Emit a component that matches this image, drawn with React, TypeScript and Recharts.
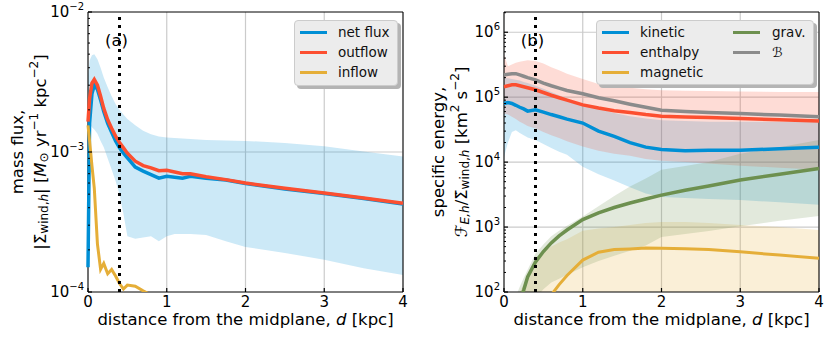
import React from 'react';
import {
  ComposedChart,
  Line,
  Area,
  XAxis,
  YAxis,
  CartesianGrid,
  ReferenceLine,
  ReferenceArea,
  Legend,
  Label,
} from 'recharts';

const FONT = '"DejaVu Sans", Verdana, sans-serif';
const BLUE = '#008fd5';
const RED = '#fc4f30';
const YELLOW = '#e5ae38';
const GREEN = '#6d904f';
const GRAY = '#8b8b8b';

// ---- panel (a): mass flux ----
const distA = [0, 0.02, 0.05, 0.08, 0.12, 0.16, 0.2, 0.25, 0.3, 0.35, 0.4, 0.45, 0.5, 0.6, 0.7, 0.8, 0.9, 1.0, 1.1, 1.2, 1.3, 1.5, 1.75, 2.0, 2.5, 3.0, 3.5, 4.0];
const netFlux = [1.5e-4, 1.6e-3, 2.6e-3, 3.0e-3, 2.8e-3, 2.35e-3, 1.95e-3, 1.6e-3, 1.38e-3, 1.2e-3, 1.07e-3, 9.8e-4, 9.1e-4, 7.8e-4, 7.3e-4, 6.9e-4, 6.5e-4, 6.7e-4, 6.6e-4, 6.5e-4, 6.7e-4, 6.5e-4, 6.3e-4, 5.95e-4, 5.45e-4, 5.05e-4, 4.65e-4, 4.25e-4];
const outflow = [1.65e-3, 2.4e-3, 3.1e-3, 3.3e-3, 3.0e-3, 2.5e-3, 2.05e-3, 1.7e-3, 1.48e-3, 1.3e-3, 1.17e-3, 1.07e-3, 9.8e-4, 8.6e-4, 8.0e-4, 7.7e-4, 7.35e-4, 7.4e-4, 7.2e-4, 7.0e-4, 7.0e-4, 6.65e-4, 6.35e-4, 6.0e-4, 5.5e-4, 5.1e-4, 4.7e-4, 4.3e-4];
const inflow = [1.55e-3, 1.2e-3, 8.0e-4, 5.5e-4, 2.2e-4, 1.45e-4, 1.6e-4, 1.35e-4, 1.45e-4, 1.3e-4, 1.15e-4, 1.05e-4, 1.12e-4, 1.1e-4, 1.02e-4, 9.5e-5, null, null, null, null, null, null, null, null, null, null, null, null];
const netHi = [3.5e-3, 4.5e-3, 4.9e-3, 5.0e-3, 4.6e-3, 4.0e-3, 3.4e-3, 2.9e-3, 2.5e-3, 2.2e-3, 2.0e-3, 1.85e-3, 1.72e-3, 1.55e-3, 1.42e-3, 1.34e-3, 1.29e-3, 1.27e-3, 1.26e-3, 1.25e-3, 1.24e-3, 1.22e-3, 1.21e-3, 1.2e-3, 1.16e-3, 1.1e-3, 1.01e-3, 9.3e-4];
const netLo = [1.5e-3, 1.6e-3, 1.5e-3, 1.45e-3, 1.35e-3, 1.2e-3, 1.08e-3, 9.0e-4, 7.5e-4, 6.2e-4, 5.0e-4, 3.6e-4, 2.5e-4, 2.4e-4, 2.45e-4, 2.5e-4, 2.3e-4, 2.5e-4, 2.6e-4, 2.6e-4, 2.6e-4, 2.55e-4, 2.3e-4, 2.1e-4, 1.9e-4, 1.7e-4, 1.48e-4, 1.32e-4];

// ---- panel (b): specific energy ----
const distB = [0, 0.05, 0.1, 0.15, 0.2, 0.25, 0.3, 0.4, 0.5, 0.6, 0.7, 0.8, 1.0, 1.2, 1.4, 1.6, 1.8, 2.0, 2.3, 2.6, 3.0, 3.5, 4.0];
const kinetic = [8.0e4, 8.3e4, 8.0e4, 7.5e4, 7.0e4, 6.6e4, 6.1e4, 6.4e4, 5.9e4, 5.4e4, 5.0e4, 4.6e4, 4.0e4, 3.0e4, 2.5e4, 2.0e4, 1.7e4, 1.57e4, 1.5e4, 1.52e4, 1.53e4, 1.6e4, 1.7e4];
const enthalpy = [1.45e5, 1.5e5, 1.55e5, 1.55e5, 1.5e5, 1.45e5, 1.4e5, 1.3e5, 1.18e5, 1.07e5, 9.8e4, 9.0e4, 7.6e4, 6.8e4, 6.2e4, 5.8e4, 5.4e4, 5.1e4, 4.95e4, 4.85e4, 4.7e4, 4.5e4, 4.3e4];
const magnetic = [10, 12, 15, 18, 22, 27, 33, 50, 68, 90, 130, 180, 310, 410, 450, 460, 475, 470, 465, 450, 415, 370, 330];
const grav = [5, 8, 20, 45, 75, 107, 170, 290, 420, 570, 730, 900, 1300, 1650, 2000, 2350, 2700, 3100, 3700, 4300, 5300, 6500, 8000];
const bern = [2.2e5, 2.25e5, 2.3e5, 2.3e5, 2.2e5, 2.1e5, 2.0e5, 1.85e5, 1.65e5, 1.5e5, 1.38e5, 1.27e5, 1.13e5, 9.8e4, 8.8e4, 7.8e4, 7.0e4, 6.3e4, 6.0e4, 5.8e4, 5.6e4, 5.3e4, 5.0e4];
const kinHi = [2.0e5, 1.95e5, 1.9e5, 1.85e5, 1.8e5, 1.72e5, 1.65e5, 1.5e5, 1.35e5, 1.2e5, 1.07e5, 9.5e4, 7.6e4, 6.6e4, 5.7e4, 5.1e4, 4.7e4, 4.4e4, 4.3e4, 4.2e4, 4.2e4, 4.2e4, 4.2e4];
const kinLo = [1.2e4, 2.0e4, 2.9e4, 3.1e4, 2.8e4, 2.6e4, 2.4e4, 2.2e4, 1.9e4, 1.65e4, 1.45e4, 1.3e4, 8.5e3, 6.5e3, 5.2e3, 4.1e3, 3.3e3, 2.9e3, 2.8e3, 2.7e3, 2.6e3, 2.4e3, 2.2e3];
const enthHi = [4.5e5, 3.0e5, 3.2e5, 3.4e5, 3.5e5, 3.6e5, 3.7e5, 3.6e5, 3.3e5, 2.9e5, 2.6e5, 2.3e5, 1.9e5, 1.6e5, 1.48e5, 1.4e5, 1.32e5, 1.28e5, 1.26e5, 1.24e5, 1.22e5, 1.2e5, 1.2e5];
const enthLo = [5.6e4, 5.4e4, 5.0e4, 4.6e4, 4.2e4, 3.9e4, 3.6e4, 3.3e4, 2.9e4, 2.6e4, 2.35e4, 2.1e4, 1.74e4, 1.5e4, 1.35e4, 1.25e4, 1.12e4, 1.05e4, 1.0e4, 9.5e3, 8.8e3, 8.2e3, 7.6e3];
const gravHi = [30, 40, 55, 85, 120, 165, 220, 390, 540, 720, 880, 1050, 1450, 2100, 3000, 4200, 5600, 7600, 8700, 1.0e4, 1.35e4, 1.7e4, 2.2e4];
const gravLo = [5, 8, 12, 18, 27, 38, 50, 80, 110, 140, 160, 185, 240, 300, 360, 430, 520, 700, 780, 870, 1030, 1250, 1480];
const magHi = [20, 30, 45, 70, 100, 130, 170, 270, 420, 500, 580, 650, 880, 950, 1000, 1080, 1150, 1200, 1200, 1150, 1080, 1000, 900];
const magLo = [10, 12, 15, 18, 20, 22, 25, 30, 35, 40, 45, 50, 55, 60, 62, 65, 66, 68, 68, 66, 64, 62, 60];

const xTicks = [0, 1, 2, 3, 4];
const domainA: [number, number] = [1e-4, 1e-2];
const domainB: [number, number] = [1e2, 2.05e6];
const midplaneCut = 0.4;

// decade ticks plus the 2..9 minor ticks inside the domain
function logTicks(lo: number, hi: number, max: number) {
  const out: number[] = [];
  for (let e = lo; e <= hi; e++) for (let m = 1; m <= 9; m++) out.push(m * Math.pow(10, e));
  return out.filter((v) => v <= max * 1.0001);
}
const yTicksA = logTicks(-4, -2, domainA[1]);
const yTicksB = logTicks(2, 6, domainB[1]);

const dataA = distA.map((d, i) => ({
  d,
  net: netFlux[i],
  out: outflow[i],
  inflow: inflow[i],
  band: [netLo[i], netHi[i]],
}));

const dataB = distB.map((d, i) => ({
  d,
  kinetic: kinetic[i],
  enthalpy: enthalpy[i],
  magnetic: magnetic[i],
  grav: grav[i],
  bern: bern[i],
  kinBand: [kinLo[i], kinHi[i]],
  enthBand: [enthLo[i], enthHi[i]],
  gravBand: [gravLo[i], gravHi[i]],
  magBand: [magLo[i], magHi[i]],
}));

const isDecade = (v: number) => {
  const l = Math.log10(v);
  return Math.abs(l - Math.round(l)) < 1e-6;
};

function LogTick({ x, y, payload }: any) {
  const v = payload.value;
  if (!isDecade(v)) return <line x1={x} x2={x + 2} y1={y} y2={y} stroke="#000" strokeWidth={1} />;
  const e = Math.round(Math.log10(v));
  return (
    <g>
      <line x1={x} x2={x + 4} y1={y} y2={y} stroke="#000" strokeWidth={1.2} />
      <text x={x - 4} y={y} textAnchor="end" dominantBaseline="central" fontFamily={FONT} fontSize={15} fill="#000">
        10
        <tspan dy={-6} fontSize={10}>
          {e < 0 ? `\u2212${-e}` : `${e}`}
        </tspan>
      </text>
    </g>
  );
}

function XTick({ x, y, payload }: any) {
  return (
    <g>
      <line x1={x} x2={x} y1={y} y2={y - 4} stroke="#000" strokeWidth={1.2} />
      <text x={x} y={y + 10} textAnchor="middle" dominantBaseline="central" fontFamily={FONT} fontSize={15} fill="#000">
        {payload.value}
      </text>
    </g>
  );
}

function XLabel({ viewBox }: any) {
  const cx = viewBox.x + viewBox.width / 2;
  return (
    <text x={cx} y={viewBox.y + 33} textAnchor="middle" fontFamily={FONT} fontSize={16.5} fill="#000">
      distance from the midplane, <tspan fontStyle="italic">d</tspan> [kpc]
    </text>
  );
}

function rotated(x: number, y: number, children: React.ReactNode) {
  return (
    <text x={x} y={y} transform={`rotate(-90 ${x} ${y})`} textAnchor="middle" dominantBaseline="central" fontFamily={FONT} fontSize={16.5} fill="#000">
      {children}
    </text>
  );
}

function YLabelA({ viewBox }: any) {
  const left = viewBox.x + viewBox.width;
  const cy = viewBox.y + viewBox.height / 2;
  return (
    <g>
      {rotated(left - 71, cy, 'mass flux,')}
      {rotated(
        left - 48,
        cy,
        <>
          |{'\u03A3\u0307'}
          <tspan dy={4} fontSize={12}>
            wind,<tspan fontStyle="italic">h</tspan>
          </tspan>
          <tspan dy={-4}>| [</tspan>
          <tspan fontStyle="italic">M</tspan>
          <tspan dy={4} fontSize={12}>{'\u2299'}</tspan>
          <tspan dy={-4}> yr</tspan>
          <tspan dy={-6} fontSize={12}>{'\u22121'}</tspan>
          <tspan dy={6}> kpc</tspan>
          <tspan dy={-6} fontSize={12}>{'\u22122'}</tspan>
          <tspan dy={6}>]</tspan>
        </>,
      )}
    </g>
  );
}

function YLabelB({ viewBox }: any) {
  const left = viewBox.x + viewBox.width;
  const cy = viewBox.y + viewBox.height / 2;
  return (
    <g>
      {rotated(left - 66, cy, 'specific energy,')}
      {rotated(
        left - 43,
        cy,
        <>
          <tspan fontStyle="italic">{'\u2131'}</tspan>
          <tspan dy={4} fontSize={12} fontStyle="italic">E,h</tspan>
          <tspan dy={-4}>/{'\u03A3\u0307'}</tspan>
          <tspan dy={4} fontSize={12}>
            wind,<tspan fontStyle="italic">h</tspan>
          </tspan>
          <tspan dy={-4}> [km</tspan>
          <tspan dy={-6} fontSize={12}>2</tspan>
          <tspan dy={6}> s</tspan>
          <tspan dy={-6} fontSize={12}>{'\u22122'}</tspan>
          <tspan dy={6}>]</tspan>
        </>,
      )}
    </g>
  );
}

const panelTag = (tag: string) => ({ viewBox }: any) => (
  <text x={viewBox.x - 3} y={viewBox.y + 33.5} textAnchor="middle" fontFamily={FONT} fontSize={16.5} fill="#000">
    {tag}
  </text>
);

type LegendItem = { name: React.ReactNode; color: string; col: number; row: number };

const legendA: LegendItem[] = [
  { name: 'net flux', color: BLUE, col: 0, row: 0 },
  { name: 'outflow', color: RED, col: 0, row: 1 },
  { name: 'inflow', color: YELLOW, col: 0, row: 2 },
];
const legendB: LegendItem[] = [
  { name: 'kinetic', color: BLUE, col: 0, row: 0 },
  { name: 'enthalpy', color: RED, col: 0, row: 1 },
  { name: 'magnetic', color: YELLOW, col: 0, row: 2 },
  { name: 'grav.', color: GREEN, col: 1, row: 0 },
  { name: <i>{'\u212C'}</i>, color: GRAY, col: 1, row: 1 },
];

function LegendBox({ items }: { items: LegendItem[] }) {
  return (
    <div
      style={{
        position: 'relative',
        boxSizing: 'border-box',
        width: '100%',
        height: '100%',
        background: '#ececec',
        border: '1px solid #cccccc',
        borderRadius: 4,
        boxShadow: '3px 3px 0 #b4b4b4',
        fontFamily: FONT,
        fontSize: 13.5,
        color: '#111',
      }}
    >
      {items.map((it, i) => (
        <React.Fragment key={i}>
          <div
            style={{
              position: 'absolute',
              left: 5 + it.col * 131,
              top: 9.5 + it.row * 20,
              width: 27,
              height: 3.5,
              background: it.color,
            }}
          />
          <div
            style={{
              position: 'absolute',
              left: 43 + it.col * 132,
              top: 1 + it.row * 20,
              lineHeight: '20px',
              whiteSpace: 'nowrap',
            }}
          >
            {it.name}
          </div>
        </React.Fragment>
      ))}
    </div>
  );
}

const margin = { top: 12, right: 12, bottom: 15, left: 28 };

function Axes({ domain, ticks, yLabel }: any) {
  return null;
}

function PanelA() {
  return (
    <ComposedChart width={415} height={337} data={dataA} margin={margin}>
      <CartesianGrid stroke="#cbcbcb" strokeWidth={1.2} horizontalValues={[1e-3]} />
      <XAxis dataKey="d" type="number" domain={[0, 4]} ticks={xTicks} interval={0} height={30} tickSize={0} tickMargin={0} axisLine={false} tickLine={false} tick={XTick}>
        <Label content={XLabel} />
      </XAxis>
      <YAxis scale="log" type="number" domain={domainA} allowDataOverflow ticks={yTicksA} interval={0} width={60} tickSize={0} tickMargin={0} axisLine={false} tickLine={false} tick={LogTick}>
        <Label content={YLabelA} />
      </YAxis>
      <Area dataKey="band" stroke="none" fill={BLUE} fillOpacity={0.2} isAnimationActive={false} />
      <Line dataKey="net" stroke={BLUE} strokeWidth={3.5} dot={false} isAnimationActive={false} />
      <Line dataKey="out" stroke={RED} strokeWidth={3.5} dot={false} isAnimationActive={false} />
      <Line dataKey="inflow" stroke={YELLOW} strokeWidth={3} dot={false} isAnimationActive={false} />
      <ReferenceLine x={midplaneCut} stroke="#000" strokeWidth={3} strokeDasharray="3 5" label={panelTag('(a)')} />
      <ReferenceArea x1={0} x2={4} y1={domainA[0]} y2={domainA[1]} fill="none" stroke="#000" strokeWidth={1} ifOverflow="visible" />
      <Legend layout="vertical" align="center" verticalAlign="middle" wrapperStyle={{ left: 294, top: 20, width: 104, height: 66 }} content={() => <LegendBox items={legendA} />} />
    </ComposedChart>
  );
}

function PanelB() {
  return (
    <ComposedChart width={415} height={337} data={dataB} margin={margin}>
      <CartesianGrid stroke="#cbcbcb" strokeWidth={1.2} horizontalValues={[1e3, 1e4, 1e5, 1e6]} />
      <XAxis dataKey="d" type="number" domain={[0, 4]} ticks={xTicks} interval={0} height={30} tickSize={0} tickMargin={0} axisLine={false} tickLine={false} tick={XTick}>
        <Label content={XLabel} />
      </XAxis>
      <YAxis scale="log" type="number" domain={domainB} allowDataOverflow ticks={yTicksB} interval={0} width={60} tickSize={0} tickMargin={0} axisLine={false} tickLine={false} tick={LogTick}>
        <Label content={YLabelB} />
      </YAxis>
      <Area dataKey="kinBand" stroke="none" fill={BLUE} fillOpacity={0.2} isAnimationActive={false} />
      <Area dataKey="enthBand" stroke="none" fill={RED} fillOpacity={0.2} isAnimationActive={false} />
      <Area dataKey="magBand" stroke="none" fill={YELLOW} fillOpacity={0.2} isAnimationActive={false} />
      <Area dataKey="gravBand" stroke="none" fill={GREEN} fillOpacity={0.2} isAnimationActive={false} />
      <Line dataKey="kinetic" stroke={BLUE} strokeWidth={3.5} dot={false} isAnimationActive={false} />
      <Line dataKey="enthalpy" stroke={RED} strokeWidth={3.5} dot={false} isAnimationActive={false} />
      <Line dataKey="magnetic" stroke={YELLOW} strokeWidth={3} dot={false} isAnimationActive={false} />
      <Line dataKey="grav" stroke={GREEN} strokeWidth={3.5} dot={false} isAnimationActive={false} />
      <Line dataKey="bern" stroke={GRAY} strokeWidth={3.5} dot={false} isAnimationActive={false} />
      <ReferenceLine x={midplaneCut} stroke="#000" strokeWidth={3} strokeDasharray="3 5" label={panelTag('(b)')} />
      <ReferenceArea x1={0} x2={4} y1={domainB[0]} y2={domainB[1]} fill="none" stroke="#000" strokeWidth={1} ifOverflow="visible" />
      <Legend layout="vertical" align="center" verticalAlign="middle" wrapperStyle={{ left: 180, top: 20, width: 218, height: 65 }} content={() => <LegendBox items={legendB} />} />
    </ComposedChart>
  );
}

export default function App() {
  return (
    <div style={{ position: 'absolute', left: 0, top: 0, width: 831, height: 337, background: '#fff', fontFamily: FONT }}>
      <div style={{ position: 'absolute', left: 0, top: 0 }}>
        <PanelA />
      </div>
      <div style={{ position: 'absolute', left: 416, top: 0 }}>
        <PanelB />
      </div>
    </div>
  );
}
